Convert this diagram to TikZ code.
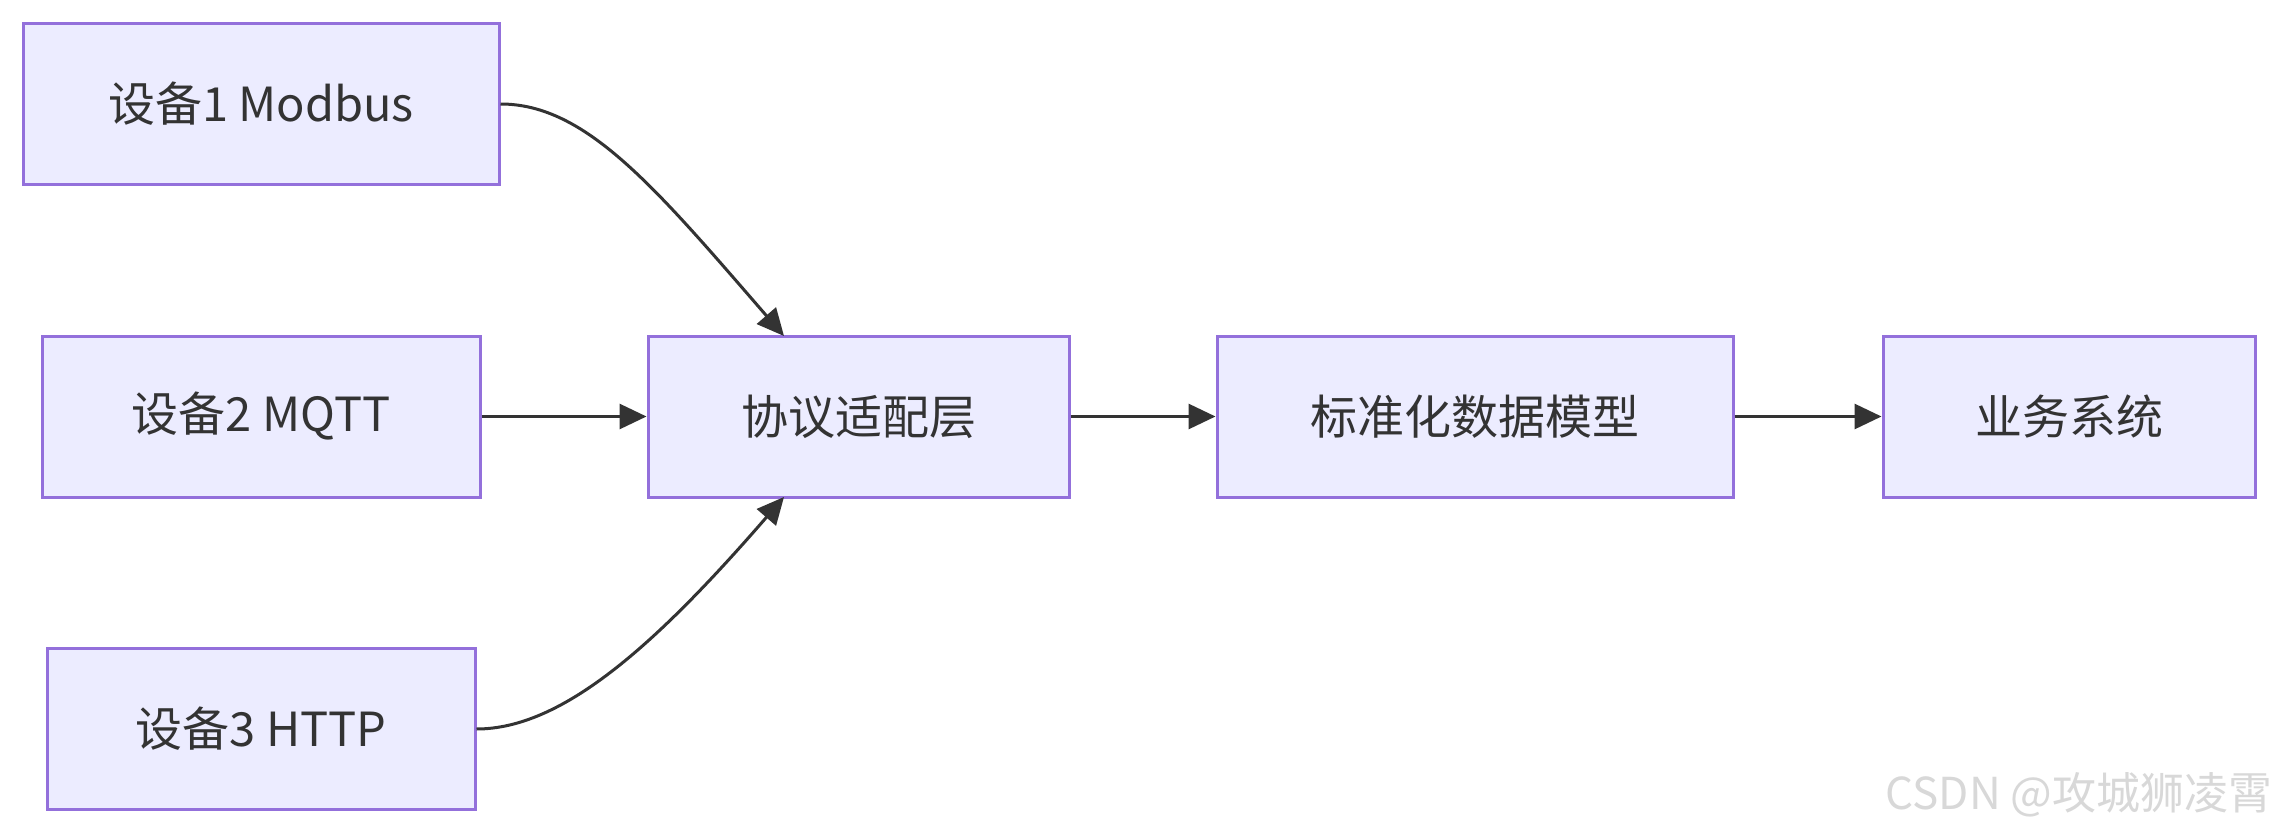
\documentclass[tikz,border=0pt]{standalone}
\usepackage{fontspec}
\setmainfont{Noto Sans CJK SC}
\usetikzlibrary{arrows.meta}
\definecolor{boxfill}{HTML}{ECECFF}
\definecolor{boxline}{HTML}{9370DB}
\definecolor{edgec}{HTML}{333333}
\definecolor{wm}{HTML}{D8D8D8}
\tikzset{
  box/.style={draw=boxline, fill=boxfill, line width=3pt, inner sep=0pt,
    minimum height=161pt, text=edgec, font=\fontsize{47}{56}\selectfont},
  link/.style={draw=edgec, line width=3pt,
    -{Triangle[length=27pt,width=25pt]}}
}
\begin{document}
\begin{tikzpicture}[x=1pt,y=-1pt]
\useasboundingbox[fill=white] (0,0) rectangle (2280,834);
\node[box, minimum width=476pt] (d1) at (261,104) {设备1 Modbus};
\node[box, minimum width=438pt] (d2) at (261,416.5) {设备2 MQTT};
\node[box, minimum width=428pt] (d3) at (261,729) {设备3 HTTP};
\node[box, minimum width=421pt] (ad) at (858.5,416.5) {协议适配层};
\node[box, minimum width=516pt] (md) at (1475,416.5) {标准化数据模型};
\node[box, minimum width=372pt] (bz) at (2069,416.5) {业务系统};
\coordinate (adtop) at (784,336);
\coordinate (adbot) at (784,497);
\draw[link] (d1.east) .. controls +(85,0) and +(-130,-150) .. (adtop);
\draw[link] (d3.east) .. controls +(85,0) and +(-130,150) .. (adbot);
\draw[link] (d2.east) -- (ad.west);
\draw[link] (ad.east) -- (md.west);
\draw[link] (md.east) -- (bz.west);
\node[text=wm, anchor=east, font=\fontsize{44}{52}\selectfont] (wmk) at (2276,795) {CSDN @攻城狮凌霄};
\end{tikzpicture}
\end{document}
